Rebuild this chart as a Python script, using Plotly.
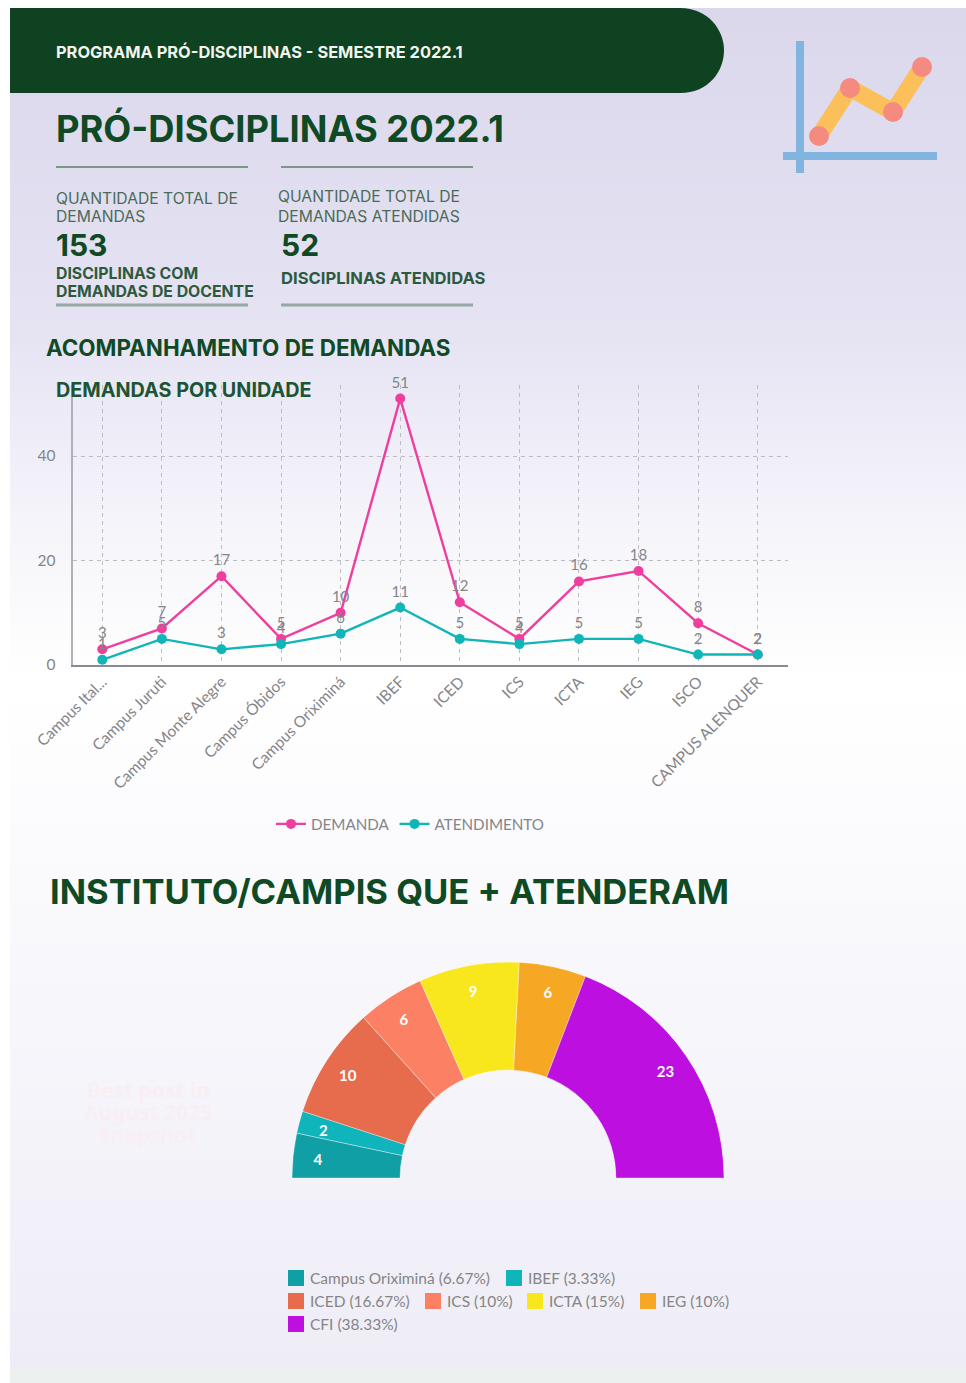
import math
import plotly.graph_objects as go

W, H = 966, 1383

categories = ["Campus Ital...", "Campus Juruti", "Campus Monte Alegre", "Campus Óbidos", "Campus Oriximiná",
              "IBEF", "ICED", "ICS", "ICTA", "IEG", "ISCO", "CAMPUS ALENQUER"]
demanda = [3, 7, 17, 5, 10, 51, 12, 5, 16, 18, 8, 2]
atendimento = [1, 5, 3, 4, 6, 11, 5, 4, 5, 5, 2, 2]

units = ["Campus Oriximiná", "IBEF", "ICED", "ICS", "ICTA", "IEG", "CFI"]
unit_values = [4, 2, 10, 6, 9, 6, 23]
unit_shares = ["6.67%", "3.33%", "16.67%", "10%", "15%", "10%", "38.33%"]
unit_colors = ["#109fa5", "#0fb5bb", "#e76c4e", "#fc8164", "#f9e71d", "#f6a723", "#bd10e0"]


def px(x):
    return x / W


def py(y):
    return 1 - y / H


shapes = []
annotations = []


def rect(x0, y0, x1, y1, color, layer="below"):
    shapes.append(dict(type="rect", xref="paper", yref="paper", x0=px(x0), x1=px(x1), y0=py(y0), y1=py(y1),
                       fillcolor=color, line_width=0, layer=layer))


def line(x0, y0, x1, y1, color, width):
    shapes.append(dict(type="line", xref="paper", yref="paper", x0=px(x0), x1=px(x1), y0=py(y0), y1=py(y1),
                       line=dict(color=color, width=width), layer="below"))


def dot(cx, cy, r, color):
    shapes.append(dict(type="circle", xref="paper", yref="paper", x0=px(cx - r), x1=px(cx + r),
                       y0=py(cy + r), y1=py(cy - r), fillcolor=color, line_width=0, layer="below"))


HEAD = "Inter"


def text(x, y, s, size, color, family=HEAD, anchor="left"):
    shift = -2 if anchor == "left" else 0
    annotations.append(dict(xref="paper", yref="paper", x=px(x + shift), y=py(y), text=s, showarrow=False,
                            xanchor=anchor, yanchor="middle", font=dict(size=size, color=color, family=family),
                            align=anchor))


# page background: vertical gradient in thin bands
stops = [(8, (219, 216, 236)), (200, (225, 222, 240)), (330, (230, 228, 243)), (450, (240, 238, 248)),
         (560, (248, 248, 251)), (680, (255, 255, 255)), (1367, (238, 237, 247))]
step = 8
y = 8
while y < 1367:
    for (y0, a), (y1, b) in zip(stops, stops[1:]):
        if y0 <= y < y1:
            t = (y - y0) / (y1 - y0)
            c = tuple(round(a[i] + (b[i] - a[i]) * t) for i in range(3))
    rect(10, y, W, min(y + step + 1, 1367), f"rgb{c}")
    y += step
rect(10, 1367, W, H, "#ecf1f0")

# header band
G = "#0f4220"
shapes.append(dict(type="path", xref="paper", yref="paper", layer="below", fillcolor=G, line_width=0,
                   path=f"M {px(10)} {py(8)} L {px(680)} {py(8)} "
                        f"C {px(708)} {py(8)} {px(724)} {py(30)} {px(724)} {py(50)} "
                        f"C {px(724)} {py(72)} {px(708)} {py(93)} {px(680)} {py(93)} L {px(10)} {py(93)} Z"))
text(56, 52, "<b>PROGRAMA PRÓ-DISCIPLINAS - SEMESTRE 2022.1</b>", 16.4, "#f1f4ef")
text(56, 129, "<b>PRÓ-DISCIPLINAS 2022.1</b>", 36.3, "#0f4a25")

# icon
line(800, 41, 800, 173, "#82b4e0", 8)
line(783, 156, 937, 156, "#82b4e0", 8)
for (x0, y0, x1, y1) in [(819, 136, 850, 88), (850, 88, 893, 112), (893, 112, 922, 67)]:
    line(x0, y0, x1, y1, "#fcc05a", 17)
for (cx, cy) in [(819, 136), (850, 88), (893, 112), (922, 67)]:
    dot(cx, cy, 10, "#f48a80")

# KPI block
for (x0, x1) in [(56, 248), (281, 473)]:
    line(x0, 167, x1, 167, "#7d9688", 2)
    line(x0, 305, x1, 305, "#96a8a4", 3)
text(56, 198, "QUANTIDADE TOTAL DE", 15.7, "#4a6b58")
text(56, 216, "DEMANDAS", 15.7, "#4a6b58")
text(278, 197, "QUANTIDADE TOTAL DE", 15.7, "#4a6b58")
text(278, 216, "DEMANDAS ATENDIDAS", 15.7, "#4a6b58")
text(56, 245, "<b>153</b>", 30, "#0f4a25")
text(281, 245, "<b>52</b>", 30, "#0f4a25")
text(56, 273, "<b>DISCIPLINAS COM</b>", 15.8, "#2c5a40")
text(56, 292, "<b>DEMANDAS DE DOCENTE</b>", 15.8, "#2c5a40")
text(281, 278, "<b>DISCIPLINAS ATENDIDAS</b>", 16.6, "#2c5a40")

text(46, 348, "<b>ACOMPANHAMENTO DE DEMANDAS</b>", 22.4, "#0f4a25")
text(56, 390, "<b>DEMANDAS POR UNIDADE</b>", 19.8, "#1d5434")
text(50, 891, "<b>INSTITUTO/CAMPIS QUE + ATENDERAM</b>", 34.6, "#0f4a25")

# faint watermark
for (yy, s) in [(1090, "Best post in"), (1112, "August 2025"), (1135, "Snapshot")]:
    text(148, yy, f"<b>{s}</b>", 21, "#f9eef4", "Noto Sans", "center")

fig = go.Figure()

LABEL = "#858589"
for name, vals, color in [("DEMANDA", demanda, "#ef3e9e"), ("ATENDIMENTO", atendimento, "#10b5b8")]:
    fig.add_trace(go.Scatter(x=categories, y=vals, name=name, mode="lines+markers+text", text=vals,
                             textposition="top center", cliponaxis=False,
                             textfont=dict(size=15, color=LABEL, family="Lato"),
                             line=dict(color=color, width=2.4), marker=dict(color=color, size=10),
                             xaxis="x", yaxis="y", legend="legend"))

# half doughnut drawn in a half polar subplot
thetas, widths, cumulative = [], [], 0
for v in unit_values:
    thetas.append((cumulative + v / 2) * 3)
    widths.append(v * 3)
    cumulative += v

# label anchors: on the outer part of each slice, nudged slightly below the slice's mid-angle
label_r, label_theta = [], []
for th in thetas:
    lx = -0.885 * math.cos(math.radians(th))
    ly = 0.885 * math.sin(math.radians(th)) - 0.016
    label_r.append(math.hypot(lx, ly))
    label_theta.append(180 - math.degrees(math.atan2(ly, lx)))

fig.add_trace(go.Barpolar(theta=thetas, r=[0.5] * len(unit_values), base=0.5, width=widths,
                          marker=dict(color=unit_colors, line=dict(color="rgba(255,255,255,0.6)", width=0.6)),
                          showlegend=False, subplot="polar", text=units))
fig.add_trace(go.Scatterpolar(theta=label_theta, r=label_r, mode="text", text=[f"<b>{v}</b>" for v in unit_values],
                              textfont=dict(size=15, color="white", family="Lato"), showlegend=False,
                              subplot="polar"))

# doughnut legend rows
rows = [[(0, 288), (1, 506)], [(2, 288), (3, 425), (4, 527), (5, 640)], [(6, 288)]]
for row, yy in zip(rows, [1278, 1301, 1324]):
    for idx, x0 in row:
        rect(x0, yy - 8, x0 + 16, yy + 8, unit_colors[idx])
        text(x0 + 22, yy, f"{units[idx]} ({unit_shares[idx]})", 15.5, "#858585", "Lato")

GRID = "#bdbdc6"
fig.update_layout(
    width=W, height=H, margin=dict(l=0, r=0, t=0, b=0, autoexpand=False), autosize=False,
    paper_bgcolor="white", plot_bgcolor="rgba(0,0,0,0)",
    shapes=shapes, annotations=annotations, showlegend=True,
    font=dict(family="Lato", color=LABEL),
    xaxis=dict(domain=[px(72.5), px(787.5)], anchor="y", type="category", range=[-0.5, 11.5],
               tickangle=-45, tickfont=dict(size=15.5, color=LABEL, family="Lato"), ticks="",
               showgrid=True, griddash="4px,4px", gridcolor=GRID, gridwidth=1,
               showline=True, linecolor="#8a8a92", linewidth=1.5, zeroline=False),
    yaxis=dict(domain=[py(665), py(385)], anchor="x", range=[0, 53.6], tickvals=[0, 20, 40],
               tickfont=dict(size=15.5, color=LABEL, family="Lato"), ticks="", ticklabelstandoff=12,
               showgrid=True, griddash="4px,4px", gridcolor=GRID, gridwidth=1,
               showline=True, linecolor="#b0b0b8", linewidth=2, zeroline=False),
    legend=dict(orientation="h", x=px(271), xanchor="left", y=py(824), yanchor="middle",
                bgcolor="rgba(0,0,0,0)", font=dict(size=15.2, color=LABEL, family="Lato"),
                itemwidth=30, tracegroupgap=0),
    polar=dict(domain=dict(x=[px(291), px(725)], y=[py(1178), py(962)]), sector=[0, 180],
               bgcolor="rgba(0,0,0,0)", hole=0,
               radialaxis=dict(range=[0, 1], visible=False),
               angularaxis=dict(direction="clockwise", rotation=180, visible=False, thetaunit="degrees")),
)

fig.write_html("out.html", config=dict(displayModeBar=False),
               post_script="document.body.style.margin='0';document.body.style.overflow='hidden';")
